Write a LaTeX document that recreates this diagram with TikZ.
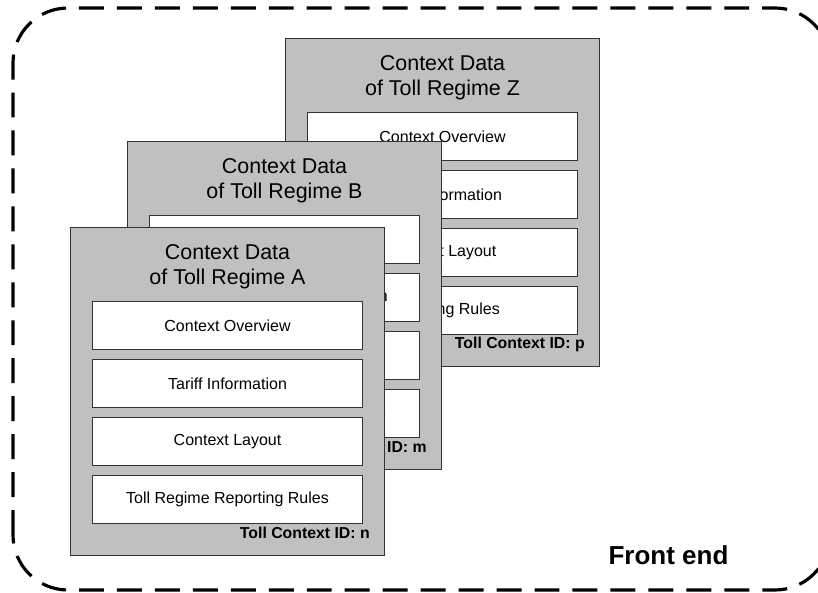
\documentclass[tikz,border=0pt]{standalone}
\usepackage{fontspec}
\setmainfont{Liberation Sans}
\usetikzlibrary{positioning}
\definecolor{regimegray}{HTML}{C0C0C0}
\definecolor{edgegray}{HTML}{333333}
\tikzset{
  regime/.style={draw=edgegray,fill=regimegray,line width=0.6pt,minimum width=6.28cm,minimum height=6.56cm,inner sep=0pt},
  regimetitle/.style={align=center,font=\fontsize{12.2}{14.2}\selectfont,inner sep=0pt},
  item/.style={draw=edgegray,fill=white,line width=0.6pt,minimum width=5.4cm,minimum height=0.96cm,inner sep=0pt,font=\fontsize{9.1}{11}\selectfont},
  contextid/.style={font=\fontsize{9}{11}\selectfont\bfseries,inner sep=0pt},
  frontframe/.style={draw,line width=1.8pt,dash pattern=on 14.2pt off 7.4pt,rounded corners=1.1cm}
}
\newcommand{\regimebox}[8]{%
  \node[regime,anchor=north west](#1) at (#2){};
  \node[regimetitle](#1title) at ([yshift=-0.79cm]#1.north){Context Data\\of Toll Regime #3};
  \node[item,anchor=north](#1ov) at ([yshift=-1.48cm]#1.north){#5};
  \node[item,below=0.18cm of #1ov](#1tar){#6};
  \node[item,below=0.18cm of #1tar](#1lay){#7};
  \node[item,below=0.18cm of #1lay](#1rep){#8};
  \node[contextid,anchor=east](#1id) at ([xshift=-0.3cm,yshift=0.46cm]#1.south east){Toll Context ID: #4};
}
\begin{document}
\begin{tikzpicture}
\clip (0,0) rectangle (16.36,11.86);
\draw[frontframe] (0.26,0.06) rectangle (16.6,11.70);
\regimebox{regZ}{5.70,11.10}{Z}{p}{Context Overview}{Tariff Information}{Context Layout}{Reporting Rules}
\regimebox{regB}{2.54,9.04}{B}{m}{Context Overview}{Toll Regime Tariff Information}{Context Layout}{Toll Regime Reporting Rules}
\regimebox{regA}{1.40,7.32}{A}{n}{Context Overview}{Tariff Information}{Context Layout}{Toll Regime Reporting Rules}
\node[font=\fontsize{14.8}{17}\selectfont\bfseries](frontend) at (13.37,0.76){Front end};
\end{tikzpicture}
\end{document}
